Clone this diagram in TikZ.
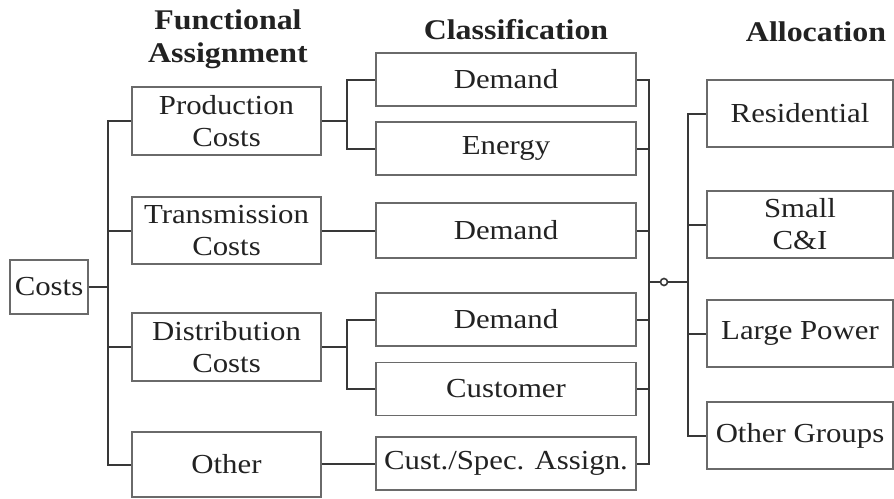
\documentclass[tikz,border=0pt]{standalone}
\usepackage{fontspec}
\setmainfont{Liberation Serif}[FakeStretch=1.12]
\definecolor{boxline}{HTML}{6A6A6A}
\definecolor{conn}{HTML}{383838}
\definecolor{txt}{HTML}{222222}
\begin{document}
\begin{tikzpicture}[x=1pt,y=-1pt,
  box/.style={draw=boxline,line width=1.8pt,fill=white,inner sep=0pt,align=center,
    text=txt,font=\fontsize{27.5}{32}\selectfont},
  fbox/.style={box,minimum width=189pt},
  cbox/.style={box,minimum width=260pt,minimum height=53pt},
  abox/.style={box,minimum width=186pt,minimum height=67pt},
  head/.style={font=\bfseries\fontsize{28.5}{33}\selectfont,text=txt,align=center,inner sep=0pt},
  wire/.style={draw=conn,line width=2pt}]
\useasboundingbox (0,0) rectangle (894,498);
\fill[white] (0,0) rectangle (894,498);
% headers
\node[head] (hfa) at (228,39) {Functional\\Assignment};
\node[head,anchor=base] (hcl) at (516,39) {Classification};
\node[head,anchor=base] (hal) at (816,41) {Allocation};
% root
\node[box,minimum width=78pt,minimum height=54pt] (costs) at (49,287) {Costs};
% functional
\node[fbox,minimum height=68pt] (prod) at (226.5,121) {Production\\Costs};
\node[fbox,minimum height=67pt] (trans) at (226.5,230.5) {Transmission\\Costs};
\node[fbox,minimum height=68pt] (dist) at (226.5,347) {Distribution\\Costs};
\node[fbox,minimum height=65pt] (oth) at (226.5,464.5) {Other};
% classification
\node[cbox] (cd1) at (506,79.5) {Demand};
\node[cbox] (cen) at (506,148.5) {Energy};
\node[cbox,minimum height=55pt] (cd2) at (506,230.5) {Demand};
\node[cbox] (cd3) at (506,319.5) {Demand};
\node[cbox] (ccu) at (506,389) {Customer};
\node[cbox] (ccs) at (506,463.5) {Cust./Spec. Assign.};
% allocation
\node[abox] (ares) at (800,113.5) {Residential};
\node[abox] (asm) at (800,224.5) {Small\\C\&I};
\node[abox] (alp) at (800,333.5) {Large Power};
\node[abox] (aog) at (800,435.5) {Other Groups};
% bus coordinates
\coordinate (t1) at (108,0);
\coordinate (b1) at (347,0);
\coordinate (b2) at (649,0);
\coordinate (b3) at (688,0);
\coordinate (mid) at (649,282);
\coordinate (mid2) at (688,282);
% root trunk
\draw[wire] (costs.east) -- (costs.east -| t1);
\draw[wire] (prod.west) -- (prod.west -| t1) -- (oth.west -| t1) -- (oth.west);
\draw[wire] (trans.west) -- (trans.west -| t1);
\draw[wire] (dist.west) -- (dist.west -| t1);
% functional to classification
\draw[wire] (prod.east) -- (prod.east -| b1);
\draw[wire] (cd1.west) -- (cd1.west -| b1) -- (cen.west -| b1) -- (cen.west);
\draw[wire] (trans.east) -- (cd2.west);
\draw[wire] (dist.east) -- (dist.east -| b1);
\draw[wire] (cd3.west) -- (cd3.west -| b1) -- (ccu.west -| b1) -- (ccu.west);
\draw[wire] (oth.east |- ccs.west) -- (ccs.west);
% classification bus
\draw[wire] (cd1.east) -- (cd1.east -| b2) -- (ccs.east -| b2) -- (ccs.east);
\draw[wire] (cen.east) -- (cen.east -| b2);
\draw[wire] (cd2.east) -- (cd2.east -| b2);
\draw[wire] (cd3.east) -- (cd3.east -| b2);
\draw[wire] (ccu.east) -- (ccu.east -| b2);
\draw[wire] (mid) -- (mid2);
\node[draw=conn,line width=1.6pt,fill=white,circle,inner sep=0pt,minimum size=7pt] (knot) at (664,282) {};
% allocation trunk
\draw[wire] (ares.west) -- (ares.west -| b3) -- (aog.west -| b3) -- (aog.west);
\draw[wire] (asm.west) -- (asm.west -| b3);
\draw[wire] (alp.west) -- (alp.west -| b3);
\end{tikzpicture}
\end{document}
